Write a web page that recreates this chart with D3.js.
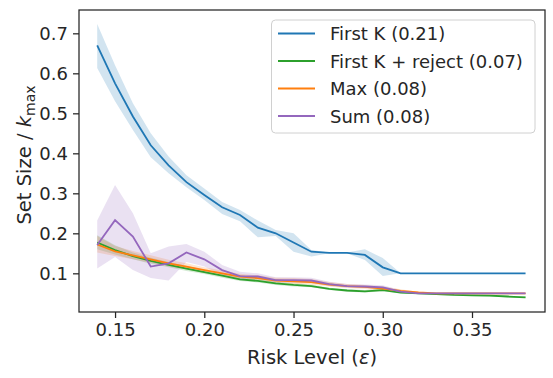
<!DOCTYPE html>
<html>
<head>
<meta charset="utf-8">
<script src="https://cdn.jsdelivr.net/npm/d3@7"></script>
<style>
body { margin: 0; background: #fff; }
text { font-family: "DejaVu Sans", sans-serif; fill: #262626; }
</style>
</head>
<body>
<div id="chart"></div>
<script>
// risk levels
var eps = [0.14,0.15,0.16,0.17,0.18,0.19,0.20,0.21,0.22,0.23,0.24,0.25,0.26,0.27,0.28,0.29,0.30,0.31,0.32,0.33,0.34,0.35,0.36,0.37,0.38];

// First K
var firstK   = [0.670,0.575,0.492,0.420,0.370,0.328,0.296,0.265,0.246,0.214,0.200,0.177,0.154,0.151,0.151,0.146,0.115,0.100,0.100,0.100,0.100,0.100,0.100,0.100,0.100];
var firstKLo = [0.613,0.530,0.458,0.390,0.350,0.315,0.283,0.248,0.230,0.190,0.193,0.154,0.142,0.150,0.150,0.133,0.093,0.100,0.100,0.100,0.100,0.100,0.100,0.100,0.100];
var firstKHi = [0.723,0.620,0.525,0.450,0.392,0.345,0.312,0.278,0.258,0.232,0.208,0.200,0.158,0.152,0.152,0.160,0.138,0.100,0.100,0.100,0.100,0.100,0.100,0.100,0.100];

// First K + reject
var reject   = [0.177,0.158,0.143,0.131,0.121,0.112,0.103,0.094,0.085,0.081,0.075,0.071,0.068,0.061,0.057,0.055,0.058,0.052,0.050,0.048,0.046,0.045,0.044,0.042,0.040];
var rejectLo = [0.160,0.147,0.135,0.124,0.115,0.106,0.098,0.089,0.081,0.077,0.071,0.067,0.065,0.058,0.054,0.052,0.055,0.050,0.048,0.046,0.044,0.043,0.042,0.040,0.038];
var rejectHi = [0.195,0.170,0.152,0.139,0.128,0.118,0.109,0.099,0.090,0.086,0.079,0.075,0.072,0.064,0.060,0.058,0.061,0.055,0.052,0.050,0.048,0.047,0.046,0.044,0.042];

// Max
var maxS   = [0.172,0.155,0.145,0.135,0.125,0.117,0.108,0.100,0.092,0.088,0.082,0.080,0.078,0.072,0.068,0.066,0.062,0.056,0.052,0.050,0.050,0.050,0.050,0.050,0.050];
var maxLo  = [0.152,0.143,0.135,0.126,0.117,0.110,0.101,0.094,0.086,0.082,0.076,0.074,0.072,0.067,0.063,0.061,0.057,0.052,0.050,0.050,0.050,0.050,0.050,0.050,0.050];
var maxHi  = [0.193,0.168,0.156,0.145,0.134,0.125,0.115,0.107,0.099,0.095,0.089,0.088,0.086,0.078,0.073,0.071,0.067,0.060,0.054,0.050,0.050,0.050,0.050,0.050,0.050];

// Sum
var sumS   = [0.171,0.233,0.192,0.117,0.125,0.152,0.135,0.108,0.093,0.092,0.083,0.083,0.082,0.073,0.068,0.067,0.065,0.054,0.050,0.050,0.050,0.050,0.050,0.050,0.050];
var sumLo  = [0.112,0.141,0.108,0.088,0.082,0.128,0.117,0.096,0.086,0.085,0.077,0.077,0.076,0.068,0.064,0.063,0.060,0.051,0.050,0.050,0.050,0.050,0.050,0.050,0.050];
var sumHi  = [0.232,0.321,0.250,0.150,0.167,0.173,0.154,0.121,0.104,0.100,0.090,0.090,0.089,0.079,0.073,0.072,0.070,0.058,0.051,0.050,0.050,0.050,0.050,0.050,0.050];

var labels = ["First K (0.21)", "First K + reject (0.07)", "Max (0.08)", "Sum (0.08)"];
var colors = ["#1f77b4", "#2ca02c", "#ff7f0e", "#9467bd"];
var xTicks = [0.15,0.20,0.25,0.30,0.35];
var yTicks = [0.1,0.2,0.3,0.4,0.5,0.6,0.7];

var series = [
  {mean: firstK, lo: firstKLo, hi: firstKHi},
  {mean: reject, lo: rejectLo, hi: rejectHi},
  {mean: maxS, lo: maxLo, hi: maxHi},
  {mean: sumS, lo: sumLo, hi: sumHi}
];

var W = 553, H = 378;
var pL = 79, pR = 545, pT = 10, pB = 312;

var svg = d3.select("#chart").append("svg")
  .attr("width", W).attr("height", H);

var x = d3.scaleLinear().domain([0.1298, 0.3909]).range([pL, pR]);
var y = d3.scaleLinear().domain([0.0033, 0.7583]).range([pB, pT]);

var area = d3.area()
  .x(function(d, i) { return x(eps[i]); })
  .y0(function(d) { return y(d[0]); })
  .y1(function(d) { return y(d[1]); });

var line = d3.line()
  .x(function(d, i) { return x(eps[i]); })
  .y(function(d) { return y(d); });

var plot = svg.append("g");

series.forEach(function(s, k) {
  var band = s.lo.map(function(v, i) { return [v, s.hi[i]]; });
  plot.append("path")
    .attr("d", area(band))
    .attr("fill", colors[k])
    .attr("fill-opacity", 0.2)
    .attr("stroke", "none");
});

series.forEach(function(s, k) {
  plot.append("path")
    .attr("d", line(s.mean))
    .attr("fill", "none")
    .attr("stroke", colors[k])
    .attr("stroke-width", 1.8);
});

// axes
var xAxis = svg.append("g")
  .attr("transform", "translate(0," + pB + ")")
  .call(d3.axisBottom(x).tickValues(xTicks).tickFormat(d3.format(".2f")).tickSizeOuter(0).tickSize(6).tickPadding(5));
var yAxis = svg.append("g")
  .attr("transform", "translate(" + pL + ",0)")
  .call(d3.axisLeft(y).tickValues(yTicks).tickFormat(d3.format(".1f")).tickSizeOuter(0).tickSize(6).tickPadding(5));

[xAxis, yAxis].forEach(function(a) {
  a.select(".domain").remove();
  a.selectAll(".tick line").attr("stroke", "#262626").attr("stroke-width", 1.25);
  a.selectAll(".tick text").attr("fill", "#262626").style("font-size", "18px").style("font-family", "DejaVu Sans");
});

// frame
svg.append("rect")
  .attr("x", pL).attr("y", pT)
  .attr("width", pR - pL).attr("height", pB - pT)
  .attr("fill", "none").attr("stroke", "#262626").attr("stroke-width", 1.25);

// axis labels
var xl = svg.append("text")
  .attr("x", (pL + pR) / 2).attr("y", 364)
  .attr("text-anchor", "middle").style("font-size", "19.5px");
xl.append("tspan").text("Risk Level (");
xl.append("tspan").style("font-style", "italic").text("ε");
xl.append("tspan").text(")");

var yl = svg.append("text")
  .attr("transform", "translate(31,155) rotate(-90)")
  .attr("text-anchor", "middle").style("font-size", "19.5px");
yl.append("tspan").text("Set Size / ");
yl.append("tspan").style("font-style", "italic").text("k");
yl.append("tspan").attr("dy", 4).style("font-size", "14px").text("max");

// legend
var lg = svg.append("g");
lg.append("rect")
  .attr("x", 271.5).attr("y", 20).attr("width", 263.5).attr("height", 113)
  .attr("rx", 4)
  .attr("fill", "#fff").attr("fill-opacity", 0.8)
  .attr("stroke", "#d0d0d0").attr("stroke-width", 1);

labels.forEach(function(t, i) {
  var ly = 33.5 + i * 27.5;
  lg.append("line")
    .attr("x1", 278).attr("x2", 315).attr("y1", ly).attr("y2", ly)
    .attr("stroke", colors[i]).attr("stroke-width", 1.8);
  lg.append("text")
    .attr("x", 330).attr("y", ly)
    .attr("dominant-baseline", "central")
    .style("font-size", "18px")
    .text(t);
});
</script>
</body>
</html>
